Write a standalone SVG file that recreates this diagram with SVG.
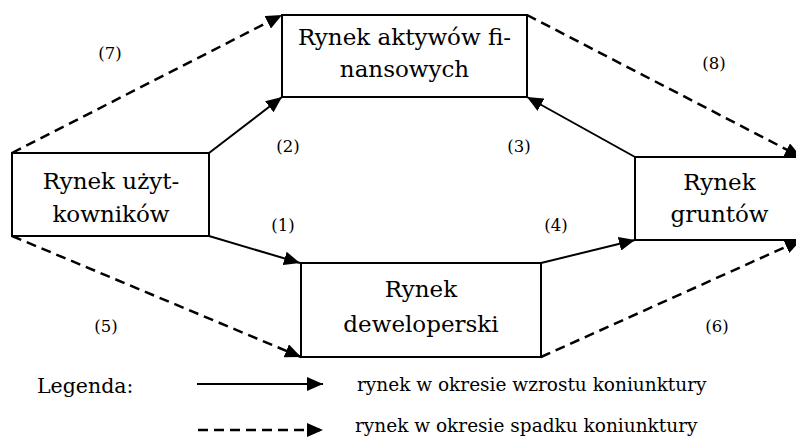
<svg xmlns="http://www.w3.org/2000/svg" width="796" height="438" viewBox="0 0 796 438">
<style>
.box{fill:#fff;stroke:#000;stroke-width:2}
.t{font-family:"DejaVu Serif","Liberation Serif",serif;font-size:23px;fill:#000;text-anchor:middle}
.lbl{font-family:"DejaVu Serif","Liberation Serif",serif;font-size:16.5px;fill:#000;text-anchor:middle}
.leg{font-family:"DejaVu Serif","Liberation Serif",serif;font-size:18.5px;fill:#000}
.s{fill:none;stroke:#000;stroke-width:2;marker-end:url(#ah)}
.d{fill:none;stroke:#000;stroke-width:2.5;stroke-dasharray:10 6;marker-end:url(#ah)}
</style>
<defs>
<marker id="ah" markerUnits="userSpaceOnUse" markerWidth="16" markerHeight="14" refX="16" refY="7" orient="auto">
<path d="M0,0 L16,7 L0,14 Z" fill="#000"/>
</marker>
</defs>
<g id="connectors">
<line class="d" x1="12" y1="153" x2="282" y2="15"/>
<line class="s" x1="209" y1="153" x2="282" y2="97"/>
<line class="d" x1="527" y1="15" x2="801" y2="157"/>
<line class="s" x1="635" y1="157" x2="527" y2="97"/>
<line class="s" x1="209" y1="236" x2="300" y2="263"/>
<line class="d" x1="12" y1="236" x2="301" y2="357"/>
<line class="s" x1="541" y1="263" x2="635" y2="240"/>
<line class="d" x1="541" y1="357" x2="801" y2="240"/>
</g>
<g id="n-finanse">
<rect class="box" x="282" y="15" width="245" height="82"/>
<text class="t" x="404.5" y="45">Rynek aktywów fi-</text>
<text class="t" x="404.5" y="77">nansowych</text>
</g>
<g id="n-uzytkownikow">
<rect class="box" x="12" y="153" width="197" height="83"/>
<text class="t" x="111" y="189">Rynek użyt-</text>
<text class="t" x="111" y="222">kowników</text>
</g>
<g id="n-deweloperski">
<rect class="box" x="301" y="263" width="240" height="94"/>
<text class="t" x="421" y="297">Rynek</text>
<text class="t" x="421" y="332">deweloperski</text>
</g>
<g id="n-gruntow">
<rect class="box" x="635" y="157" width="170" height="83"/>
<text class="t" x="719.5" y="190">Rynek</text>
<text class="t" x="719.5" y="222">gruntów</text>
</g>
<g id="labels">
<text class="lbl" x="110" y="59">(7)</text>
<text class="lbl" x="288" y="152">(2)</text>
<text class="lbl" x="519" y="152">(3)</text>
<text class="lbl" x="714" y="69">(8)</text>
<text class="lbl" x="283" y="231">(1)</text>
<text class="lbl" x="556" y="231">(4)</text>
<text class="lbl" x="106" y="332">(5)</text>
<text class="lbl" x="717" y="332">(6)</text>
</g>
<g id="legend">
<text class="leg" x="37" y="393" style="font-size:20.5px">Legenda:</text>
<line class="s" x1="197" y1="384" x2="323" y2="384"/>
<line class="d" x1="198" y1="430" x2="323" y2="430"/>
<text class="leg" x="357" y="391">rynek w okresie wzrostu koniunktury</text>
<text class="leg" x="355" y="432">rynek w okresie spadku koniunktury</text>
</g>
</svg>
